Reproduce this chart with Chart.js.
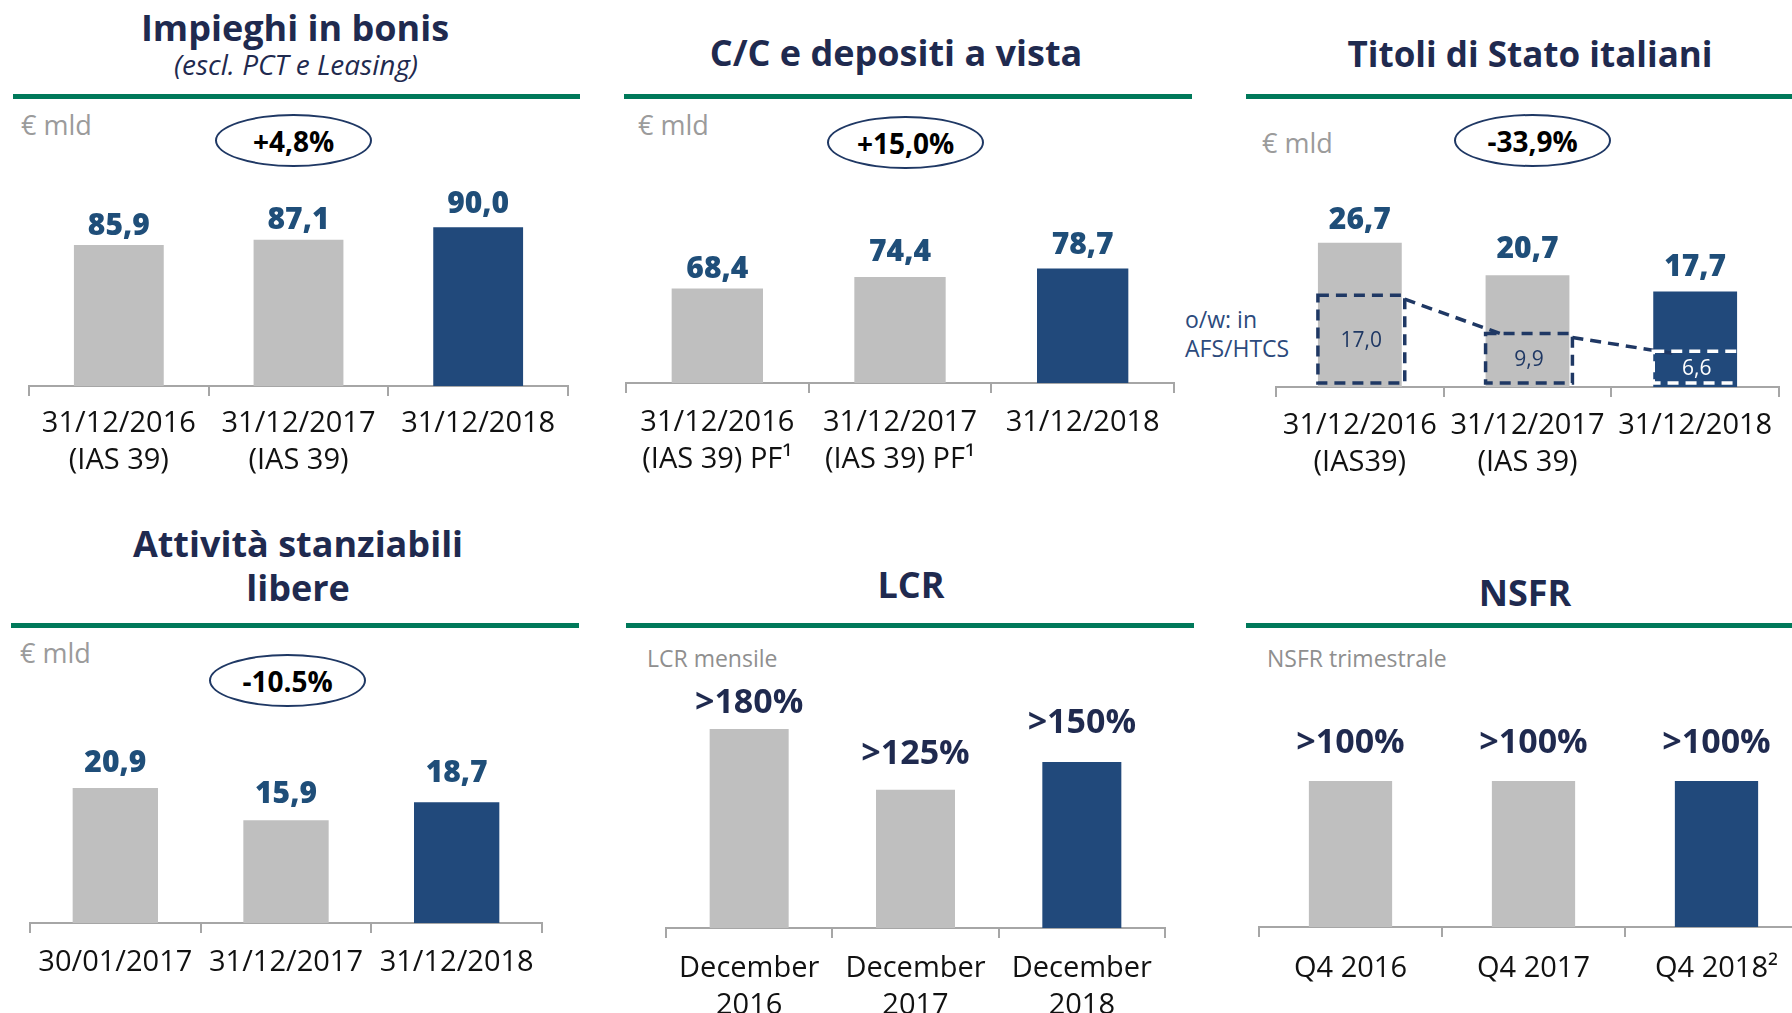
<!DOCTYPE html>
<html><head><meta charset="utf-8">
<script src="https://cdn.jsdelivr.net/npm/chart.js@4.4.1/dist/chart.umd.min.js"></script>
<style>
html,body{margin:0;padding:0;background:#fff;overflow:hidden;width:1792px;height:1013px;}
#root{position:relative;width:1792px;height:1013px;overflow:hidden;font-family:"Open Sans",sans-serif;}
.t{position:absolute;white-space:nowrap;line-height:1;}
.title{font-weight:700;color:#1f2a4f;font-size:36px;transform:translateX(-50%);}
.sub{font-style:italic;color:#1f2a4f;font-size:28px;transform:translateX(-50%);}
.rule{position:absolute;height:5px;background:#00795a;}
.unit{color:#9b9b9b;font-size:27px;}
.unit2{color:#8f8f8f;font-size:23px;}
.ow{color:#2c4a7c;font-size:23px;}
.oval{position:absolute;border:2px solid #1f3864;border-radius:50%;box-sizing:border-box;display:flex;align-items:center;justify-content:center;font-weight:700;font-size:28px;color:#000;line-height:1;}
canvas{position:absolute;}
</style></head>
<body><div id="root"></div>
<script>
// ---------- DATA ----------
const impieghiCategories = [['31/12/2016','(IAS 39)'],['31/12/2017','(IAS 39)'],'31/12/2018'];
const impieghiValues = [85.9, 87.1, 90.0];
const depositiCategories = [['31/12/2016','(IAS 39) PF¹'],['31/12/2017','(IAS 39) PF¹'],'31/12/2018'];
const depositiValues = [68.4, 74.4, 78.7];
const titoliCategories = [['31/12/2016','(IAS39)'],['31/12/2017','(IAS 39)'],'31/12/2018'];
const titoliValues = [26.7, 20.7, 17.7];
const titoliAfsValues = [17.0, 9.9, 6.6];
const attivitaCategories = ['30/01/2017','31/12/2017','31/12/2018'];
const attivitaValues = [20.9, 15.9, 18.7];
const lcrCategories = [['December','2016'],['December','2017'],['December','2018']];
const lcrValues = [180, 125, 150];
const nsfrCategories = ['Q4 2016','Q4 2017','Q4 2018²'];
const nsfrValues = [100, 100, 100];
const changeLabels = ['+4,8%', '+15,0%', '-33,9%', '-10.5%'];
const panelTitles = ['Impieghi in bonis', 'C/C e depositi a vista', 'Titoli di Stato italiani', 'Attività stanziabili', 'libere', 'LCR', 'NSFR'];

// ---------- STATIC TEXT / DECOR ----------
const root = document.getElementById('root');
function el(cls, text, css) {
  const d = document.createElement('div');
  d.className = cls; d.textContent = text;
  Object.assign(d.style, css); root.appendChild(d); return d;
}
el('t title', panelTitles[0], {left:'295px', top:'10px'});
el('t sub', '(escl. PCT e Leasing)', {left:'296px', top:'50px'});
el('t title', panelTitles[1], {left:'896px', top:'35px'});
el('t title', panelTitles[2], {left:'1530px', top:'36px', fontSize:'35px'});
el('t title', panelTitles[3], {left:'298px', top:'526px'});
el('t title', panelTitles[4], {left:'298px', top:'570px'});
el('t title', panelTitles[5], {left:'911px', top:'567px'});
el('t title', panelTitles[6], {left:'1525px', top:'575px'});

[[13,94,567],[624,94,568],[1246,94,546],[11,623,568],[626,623,568],[1246,623,546]].forEach(r=>{
  el('rule','',{left:r[0]+'px',top:r[1]+'px',width:r[2]+'px'});
});

el('t unit','€ mld',{left:'21px',top:'111px'});
el('t unit','€ mld',{left:'638px',top:'111px'});
el('t unit','€ mld',{left:'1262px',top:'129px'});
el('t unit','€ mld',{left:'20px',top:'639px'});
el('t unit2','LCR mensile',{left:'647px',top:'647px'});
el('t unit2','NSFR trimestrale',{left:'1267px',top:'647px'});
el('t ow','o/w: in',{left:'1185px',top:'308px'});
el('t ow','AFS/HTCS',{left:'1185px',top:'337px'});

[[215,114],[827,116],[1454,114],[209,654]].forEach((p,i)=>{
  el('oval', changeLabels[i], {left:p[0]+'px',top:p[1]+'px',width:'157px',height:'53px'});
});

// ---------- CHARTS ----------
const fmt = v => v.toFixed(1).replace('.', ',');
const pct = v => '>' + v + '%';
const barColors = ['#bfbfbf','#bfbfbf','#21497b'];

const valueLabelPlugin = {
  id: 'valueLabels',
  afterDatasetsDraw(chart, args, o) {
    const ctx = chart.ctx, meta = chart.getDatasetMeta(0);
    ctx.save();
    ctx.font = o.font; ctx.fillStyle = o.color;
    ctx.textAlign = 'center'; ctx.textBaseline = 'alphabetic';
    meta.data.forEach((b, i) => ctx.fillText(o.labels[i], b.x, b.y - o.gaps[i]));
    ctx.restore();
  }
};

const afsBoxPlugin = {
  id: 'afsBoxes',
  afterDatasetsDraw(chart, args, o) {
    if (!o || !o.labels) return;
    const ctx = chart.ctx, meta = chart.getDatasetMeta(1);
    const base = chart.scales.y.getPixelForValue(0);
    const boxes = meta.data.map(b => ({l: b.x - b.width/2, r: b.x + b.width/2 + 3, t: b.y, bt: base - 4}));
    ctx.save();
    ctx.lineWidth = 3.5;
    ctx.setLineDash([11, 7]);
    ctx.strokeStyle = '#1f3864';
    ctx.beginPath();
    for (let i = 0; i < boxes.length - 1; i++) {
      ctx.moveTo(boxes[i].r, boxes[i].t + 4);
      ctx.lineTo(boxes[i+1].l + 20, boxes[i+1].t + 2);
    }
    ctx.stroke();
    boxes.forEach((bx, i) => {
      ctx.strokeStyle = o.colors[i];
      ctx.strokeRect(bx.l, bx.t, bx.r - bx.l, bx.bt - bx.t);
    });
    ctx.setLineDash([]);
    ctx.font = '500 21px "Open Sans"'; ctx.textAlign = 'center'; ctx.textBaseline = 'middle';
    boxes.forEach((bx, i) => {
      ctx.fillStyle = o.textColors[i];
      ctx.fillText(o.labels[i], (bx.l + bx.r)/2, (bx.t + bx.bt)/2 + 2);
    });
    ctx.restore();
  }
};

function makeChart(cfg) {
  const pad = 20;
  const c = document.createElement('canvas');
  const w = Math.round(cfg.axisRight - cfg.axisLeft + 2*pad);
  const h = cfg.bottom - cfg.top;
  c.width = w; c.height = h;
  c.style.left = (cfg.axisLeft - pad) + 'px'; c.style.top = cfg.top + 'px';
  c.style.width = w + 'px'; c.style.height = h + 'px';
  root.appendChild(c);
  const axisH = cfg.bottom - cfg.baseline;
  const yMax = cfg.yMin + (cfg.baseline - cfg.top) / cfg.k;
  const pluginOpts = { legend:{display:false}, tooltip:{enabled:false},
    valueLabels: { labels: cfg.valueLabels, font: cfg.labelFont, color: cfg.labelColor, gaps: cfg.gaps } };
  if (cfg.afs) pluginOpts.afsBoxes = cfg.afs;
  new Chart(c, {
    type: 'bar',
    data: { labels: cfg.labels, datasets: cfg.datasets },
    options: {
      responsive: false, animation: false, devicePixelRatio: 1,
      layout: { padding: { left: pad, right: pad, top: 0, bottom: 0 } },
      plugins: pluginOpts,
      scales: {
        x: {
          offset: true,
          grid: { offset: true, drawOnChartArea: false, drawTicks: true, tickLength: 10, color: '#a6a6a6', lineWidth: 2 },
          border: { display: true, color: '#a6a6a6', width: 2 },
          ticks: { color: '#111', font: { family: '"Open Sans"', size: 29, lineHeight: 1.28 }, padding: cfg.tickPad, maxRotation: 0, minRotation: 0, autoSkip: false },
          afterFit: s => { s.height = axisH; }
        },
        y: { display: false, min: cfg.yMin, max: yMax }
      }
    },
    plugins: cfg.afs ? [valueLabelPlugin, afsBoxPlugin] : [valueLabelPlugin]
  });
}

const blueLabel = { font: '800 30px "Open Sans"', color: '#1f4e79' };
const darkLabel = { font: '700 34px "Open Sans"', color: '#1f2a4f' };
function ds(values, pct) {
  return { data: values, backgroundColor: barColors, borderWidth: 0, barPercentage: pct, categoryPercentage: 1, grouped: false };
}

makeChart({ axisLeft: 29, axisRight: 568, top: 170, bottom: 490, baseline: 386, yMin: 53.54, k: 4.356,
  labels: impieghiCategories, datasets: [ds(impieghiValues, 0.5)], tickPad: 9,
  valueLabels: impieghiValues.map(fmt), labelFont: blueLabel.font, labelColor: blueLabel.color, gaps: [10, 11, 14] });

makeChart({ axisLeft: 626, axisRight: 1174, top: 170, bottom: 490, baseline: 383, yMin: 19.28, k: 1.925,
  labels: depositiCategories, datasets: [ds(depositiValues, 0.5)], tickPad: 11,
  valueLabels: depositiValues.map(fmt), labelFont: blueLabel.font, labelColor: blueLabel.color, gaps: [10, 16, 15] });

makeChart({ axisLeft: 1276, axisRight: 1779, top: 170, bottom: 490, baseline: 387, yMin: 0, k: 5.4,
  labels: titoliCategories,
  datasets: [ds(titoliValues, 0.5), { data: titoliAfsValues, backgroundColor: 'rgba(0,0,0,0)', borderWidth: 0, barPercentage: 0.5, categoryPercentage: 1, grouped: false }],
  tickPad: 10,
  valueLabels: titoliValues.map(fmt), labelFont: blueLabel.font, labelColor: blueLabel.color, gaps: [14, 17, 15],
  afs: { labels: titoliAfsValues.map(fmt), colors: ['#1f3864','#1f3864','#ffffff'], textColors: ['#1f3864','#1f3864','#ffffff'] } });

makeChart({ axisLeft: 30, axisRight: 542, top: 720, bottom: 1013, baseline: 923, yMin: 0, k: 6.46,
  labels: attivitaCategories, datasets: [ds(attivitaValues, 0.5)], tickPad: 11,
  valueLabels: attivitaValues.map(fmt), labelFont: blueLabel.font, labelColor: blueLabel.color, gaps: [16, 17, 20] });

makeChart({ axisLeft: 666, axisRight: 1165, top: 670, bottom: 1013, baseline: 928, yMin: 0, k: 1.106,
  labels: lcrCategories, datasets: [ds(lcrValues, 0.475)], tickPad: 12,
  valueLabels: lcrValues.map(pct), labelFont: darkLabel.font, labelColor: darkLabel.color, gaps: [16, 26, 29] });

makeChart({ axisLeft: 1259, axisRight: 1808, top: 700, bottom: 1013, baseline: 927, yMin: 0, k: 1.46,
  labels: nsfrCategories, datasets: [ds(nsfrValues, 0.455)], tickPad: 13,
  valueLabels: nsfrValues.map(pct), labelFont: darkLabel.font, labelColor: darkLabel.color, gaps: [28, 28, 28] });
</script>
</body></html>
